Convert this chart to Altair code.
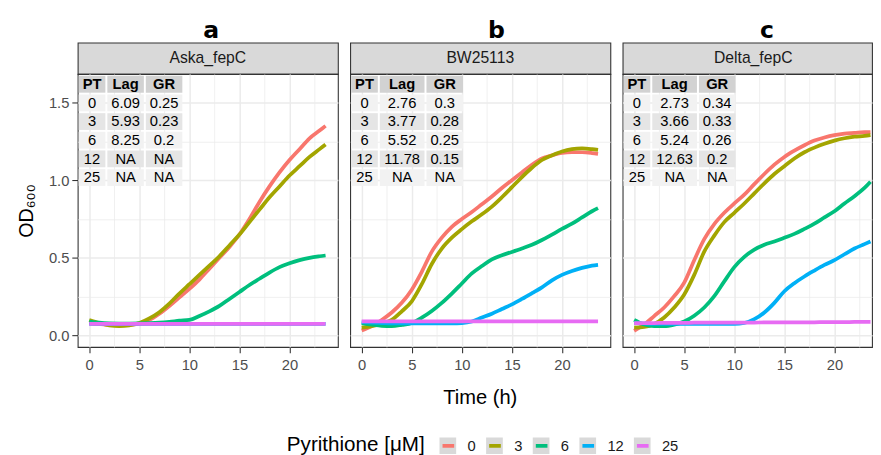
import altair as alt
import pandas as pd

# ---------------- data ----------------
TIME = [0, 1, 2, 3, 4, 5, 6, 7, 8, 9, 10, 11, 12, 13, 14, 15, 16, 17, 18, 19, 20, 21, 22, 23, 23.6]
LEVELS = ["0", "3", "6", "12", "25"]
COLORS = ["#F8766D", "#A3A500", "#00BF7D", "#00B0F6", "#E76BF3"]
STRAINS = ["Aska_fepC", "BW25113", "Delta_fepC"]
LETTERS = ["a", "b", "c"]

ASKA_0 = [0.080, 0.075, 0.068, 0.065, 0.068, 0.078, 0.100, 0.140, 0.190, 0.245, 0.300, 0.360, 0.430,
          0.500, 0.570, 0.650, 0.750, 0.860, 0.960, 1.050, 1.130, 1.200, 1.270, 1.320, 1.350]
ASKA_3 = [0.100, 0.080, 0.065, 0.060, 0.065, 0.080, 0.110, 0.150, 0.205, 0.270, 0.330, 0.390, 0.450,
          0.510, 0.580, 0.650, 0.730, 0.810, 0.890, 0.960, 1.030, 1.090, 1.150, 1.200, 1.230]
ASKA_6 = [0.090, 0.082, 0.078, 0.077, 0.077, 0.078, 0.080, 0.083, 0.088, 0.095, 0.100, 0.125, 0.155,
          0.190, 0.235, 0.280, 0.325, 0.365, 0.405, 0.440, 0.465, 0.485, 0.500, 0.510, 0.515]
ASKA_12 = [0.075, 0.075, 0.075, 0.075, 0.075, 0.075, 0.075, 0.075, 0.075, 0.075, 0.075, 0.075, 0.075,
           0.075, 0.075, 0.075, 0.075, 0.075, 0.075, 0.075, 0.075, 0.075, 0.075, 0.075, 0.075]
ASKA_25 = [0.075, 0.075, 0.075, 0.075, 0.075, 0.075, 0.075, 0.075, 0.075, 0.075, 0.075, 0.075, 0.075,
           0.075, 0.075, 0.075, 0.075, 0.075, 0.075, 0.075, 0.075, 0.075, 0.075, 0.075, 0.075]

BW_0 = [0.032, 0.060, 0.100, 0.148, 0.210, 0.295, 0.410, 0.540, 0.630, 0.700, 0.750, 0.795, 0.845,
        0.895, 0.950, 1.000, 1.050, 1.100, 1.140, 1.160, 1.175, 1.180, 1.180, 1.175, 1.170]
BW_3 = [0.050, 0.060, 0.075, 0.100, 0.155, 0.220, 0.330, 0.460, 0.560, 0.630, 0.685, 0.735, 0.780,
        0.830, 0.890, 0.955, 1.020, 1.080, 1.130, 1.160, 1.185, 1.200, 1.205, 1.200, 1.195]
BW_6 = [0.080, 0.070, 0.062, 0.060, 0.068, 0.080, 0.115, 0.158, 0.210, 0.270, 0.335, 0.400, 0.447,
        0.490, 0.517, 0.538, 0.560, 0.584, 0.615, 0.650, 0.686, 0.720, 0.760, 0.800, 0.820]
BW_12 = [0.085, 0.082, 0.080, 0.078, 0.078, 0.078, 0.078, 0.078, 0.078, 0.078, 0.080, 0.090, 0.115,
         0.140, 0.170, 0.200, 0.235, 0.272, 0.310, 0.355, 0.390, 0.415, 0.435, 0.450, 0.455]
BW_25 = [0.090, 0.090, 0.090, 0.090, 0.090, 0.090, 0.090, 0.090, 0.090, 0.090, 0.090, 0.090, 0.090,
         0.090, 0.090, 0.090, 0.090, 0.090, 0.090, 0.090, 0.090, 0.090, 0.090, 0.090, 0.090]

DELTA_0 = [0.030, 0.070, 0.125, 0.180, 0.253, 0.340, 0.485, 0.620, 0.717, 0.790, 0.850, 0.907, 0.975,
           1.040, 1.100, 1.150, 1.190, 1.225, 1.255, 1.275, 1.290, 1.300, 1.305, 1.310, 1.310]
DELTA_3 = [0.050, 0.055, 0.074, 0.116, 0.180, 0.264, 0.390, 0.540, 0.643, 0.730, 0.790, 0.850, 0.915,
           0.980, 1.040, 1.090, 1.140, 1.180, 1.210, 1.235, 1.255, 1.270, 1.280, 1.285, 1.290]
DELTA_6 = [0.100, 0.070, 0.060, 0.060, 0.070, 0.090, 0.127, 0.180, 0.253, 0.348, 0.440, 0.506, 0.553,
           0.584, 0.605, 0.629, 0.654, 0.686, 0.720, 0.760, 0.800, 0.850, 0.897, 0.950, 0.990]
DELTA_12 = [0.080, 0.077, 0.075, 0.075, 0.075, 0.075, 0.075, 0.075, 0.075, 0.075, 0.074, 0.080, 0.105,
            0.148, 0.210, 0.285, 0.337, 0.380, 0.418, 0.454, 0.485, 0.523, 0.560, 0.588, 0.605]
DELTA_25 = [0.080, 0.080, 0.080, 0.081, 0.081, 0.081, 0.082, 0.082, 0.082, 0.082, 0.083, 0.083, 0.083,
            0.084, 0.084, 0.084, 0.085, 0.085, 0.085, 0.086, 0.086, 0.086, 0.087, 0.087, 0.087]

TABLE_HEAD = ["PT", "Lag", "GR"]
PT = ["0", "3", "6", "12", "25"]
ASKA_LAG = ["6.09", "5.93", "8.25", "NA", "NA"]
ASKA_GR = ["0.25", "0.23", "0.2", "NA", "NA"]
BW_LAG = ["2.76", "3.77", "5.52", "11.78", "NA"]
BW_GR = ["0.3", "0.28", "0.25", "0.15", "NA"]
DELTA_LAG = ["2.73", "3.66", "5.24", "12.63", "NA"]
DELTA_GR = ["0.34", "0.33", "0.26", "0.2", "NA"]

SERIES = [
    [ASKA_0, ASKA_3, ASKA_6, ASKA_12, ASKA_25],
    [BW_0, BW_3, BW_6, BW_12, BW_25],
    [DELTA_0, DELTA_3, DELTA_6, DELTA_12, DELTA_25],
]
TABLES = [(ASKA_LAG, ASKA_GR), (BW_LAG, BW_GR), (DELTA_LAG, DELTA_GR)]

# ---------------- layout / style ----------------
FONT = "Liberation Sans"
PANEL_W = [265, 265, 254]
PANEL_H = 278
STRIP_H = 32
PX_PER_H = 10.2
X_MIN = -1.15
Y_DOM = [-0.074, 1.684]
X_VALUES = [0, 2.5, 5, 7.5, 10, 12.5, 15, 17.5, 20, 22.5]
Y_VALUES = [0, 0.25, 0.5, 0.75, 1.0, 1.25, 1.5]
STRIP_TEXT_X = [132.5, 132.5, 133]
LETTER_DX = [3.5, 16.5, 20]

TAB_FONT = 15
ROW_PX = 19
CELL_PAD = 0.667
GAP_X = 0.067
GAP_Y = 0.05
HEAD_BG, LIGHT_BG, DARK_BG = "#d2d2d2", "#f2f2f2", "#e5e5e5"
REG_W = {".": 0.278, "N": 0.722, "A": 0.667, "[": 0.278, "]": 0.278, " ": 0.278, "μ": 0.576,
         "M": 0.833, "P": 0.667, "y": 0.5, "r": 0.333, "i": 0.222, "t": 0.278, "h": 0.556}
BOLD_W = {"P": 0.667, "T": 0.611, "L": 0.611, "a": 0.556, "g": 0.611, "G": 0.778, "R": 0.722}

LEG_TITLE = "Pyrithione [μM]"
LEG_TITLE_SIZE = 21
LEG_TITLE_PAD = 15
LEG_X, LEG_Y = 213, 402


def em(s, widths):
    return sum(widths.get(c, 0.556) for c in s)


def table_frames(columns):
    rects, texts = [], []
    x = 0.0
    for head, vals in columns:
        w = max([em(head, BOLD_W)] + [em(v, REG_W) for v in vals]) + CELL_PAD
        for i, s in enumerate([head] + vals):
            bg = HEAD_BG if i == 0 else (LIGHT_BG if i % 2 == 1 else DARK_BG)
            rects.append(dict(x0=x + GAP_X, x1=x + w - GAP_X, y0=i + GAP_Y, y1=i + 1 - GAP_Y, bg=bg))
            texts.append(dict(xc=x + w / 2, yc=i + 0.5, txt=s, head=(i == 0)))
        x += w
    return pd.DataFrame(rects), pd.DataFrame(texts)


def major_test(step):
    return f"abs(datum.value / {step} - round(datum.value / {step})) < 1e-6"


def x_axis(title):
    kw = dict(
        values=X_VALUES, format=".0f",
        labelExpr=f"{major_test(5)} ? datum.label : ''",
        tickOpacity={"condition": {"test": major_test(5), "value": 1}, "value": 0},
        gridWidth={"condition": {"test": major_test(5), "value": 1.5}, "value": 0.75},
        tickSize=6, tickWidth=1.1, tickColor="#333333", labelPadding=5,
        labelFontSize=15, labelColor="#4d4d4d", labelFont=FONT,
        gridColor="#ebebeb", domain=False,
    )
    if title:
        kw.update(title=title, titleFontSize=20.5, titleFontWeight="normal", titleColor="black",
                  titleFont=FONT, titlePadding=16, titleX=132)
    else:
        kw.update(title=None)
    return alt.Axis(**kw)


def y_axis(show):
    kw = dict(
        values=Y_VALUES, format=".1f",
        gridWidth={"condition": {"test": major_test(0.5), "value": 1.5}, "value": 0.75},
        gridColor="#ebebeb", domain=False,
    )
    if show:
        kw.update(
            labelExpr=f"{major_test(0.5)} ? datum.label : ''",
            tickOpacity={"condition": {"test": major_test(0.5), "value": 1}, "value": 0},
            tickSize=6, tickWidth=1.1, tickColor="#333333", labelPadding=3,
            labelFontSize=15, labelColor="#4d4d4d", labelFont=FONT,
            title="OD₆₀₀", titleFontSize=20, titleFontWeight="normal", titleColor="black",
            titleFont=FONT, titlePadding=12,
        )
    else:
        kw.update(labels=False, ticks=False, title=None)
    return alt.Axis(**kw)


LEGEND_COMMON = dict(
    orient="none", legendY=LEG_Y, direction="horizontal",
    labelFont=FONT, labelFontSize=15,
    labelOffset=11, columnPadding=4.5, symbolSize=174, symbolStrokeWidth=3.8,
)

stroke_legend = alt.Legend(title=LEG_TITLE, legendX=LEG_X, titleOrient="left",
                           titleFontSize=LEG_TITLE_SIZE, titleFontWeight="normal", titleFont=FONT,
                           titlePadding=LEG_TITLE_PAD, symbolType="M-0.9,0H0.9",
                           titleColor="black", labelColor="#1a1a1a", **LEGEND_COMMON)
# grey key backgrounds: same entries, placed where the titled legend starts its entries
fill_legend = alt.Legend(title=None,
                         legendX=LEG_X + em(LEG_TITLE, REG_W) * LEG_TITLE_SIZE + LEG_TITLE_PAD,
                         symbolType="square", symbolOpacity=1, symbolStrokeColor="#d9d9d9",
                         labelOpacity=0, **LEGEND_COMMON)


def panel(k):
    width = PANEL_W[k]
    x_dom = [X_MIN, X_MIN + width / PX_PER_H]
    rows = []
    for lvl, vals in zip(LEVELS, SERIES[k]):
        for t, v in zip(TIME, vals):
            rows.append(dict(t=t, od=v, level=lvl))
    df = pd.DataFrame(rows)

    xs = alt.Scale(domain=x_dom, nice=False, zero=False)
    ys = alt.Scale(domain=Y_DOM, nice=False, zero=False)

    lines = alt.Chart(df).mark_line(strokeWidth=3.8, interpolate="monotone", clip=True).encode(
        x=alt.X("t:Q", scale=xs, axis=x_axis("Time (h)" if k == 1 else None)),
        y=alt.Y("od:Q", scale=ys, axis=y_axis(k == 0)),
        stroke=alt.Stroke("level:N", scale=alt.Scale(domain=LEVELS, range=COLORS), legend=stroke_legend),
    )
    data_layers = [lines]
    if k == 0:
        pts = alt.Chart(df).mark_point(shape="square", filled=True, opacity=0).encode(
            x=alt.X("t:Q", scale=xs, axis=x_axis(None)),
            y=alt.Y("od:Q", scale=ys, axis=y_axis(True)),
            fill=alt.Fill("level:N", sort=LEVELS, scale=alt.Scale(range=["#d9d9d9"]), legend=fill_legend),
        )
        data_layers = [pts, lines]

    lag, gr = TABLES[k]
    rect_df, text_df = table_frames([(TABLE_HEAD[0], PT), (TABLE_HEAD[1], lag), (TABLE_HEAD[2], gr)])
    txs = alt.Scale(domain=[0, width / TAB_FONT], nice=False, zero=False)
    tys = alt.Scale(domain=[-GAP_Y, PANEL_H / ROW_PX - GAP_Y], nice=False, zero=False, reverse=True)
    cells = alt.Chart(rect_df).mark_rect().encode(
        x=alt.X("x0:Q", scale=txs, axis=None), x2="x1:Q",
        y=alt.Y("y0:Q", scale=tys, axis=None), y2="y1:Q",
        color=alt.Color("bg:N", scale=None),
    )
    head_txt = alt.Chart(text_df).transform_filter("datum.head").mark_text(
        fontSize=TAB_FONT, fontWeight="bold", font=FONT, color="black", baseline="middle", align="center"
    ).encode(x=alt.X("xc:Q", scale=txs, axis=None), y=alt.Y("yc:Q", scale=tys, axis=None), text="txt:N")
    body_txt = alt.Chart(text_df).transform_filter("!datum.head").mark_text(
        fontSize=TAB_FONT, font=FONT, color="black", baseline="middle", align="center"
    ).encode(x=alt.X("xc:Q", scale=txs, axis=None), y=alt.Y("yc:Q", scale=tys, axis=None), text="txt:N")

    plot = alt.layer(alt.layer(*data_layers), alt.layer(cells, head_txt, body_txt)).resolve_scale(
        x="independent", y="independent"
    ).properties(width=width, height=PANEL_H)

    strip = alt.Chart(pd.DataFrame({"name": [STRAINS[k]]})).mark_text(
        fontSize=16, font=FONT, color="#1a1a1a", baseline="middle", align="center"
    ).encode(text="name:N", x=alt.value(STRIP_TEXT_X[k]), y=alt.value(STRIP_H / 2)).properties(
        width=width, height=STRIP_H,
        view=alt.ViewBackground(fill="#d9d9d9", stroke="#333333", strokeWidth=1.1),
        title=alt.TitleParams(LETTERS[k], fontSize=24, font="DejaVu Sans", fontWeight="bold",
                              color="black", anchor="middle", frame="group", dx=LETTER_DX[k], dy=24,
                              baseline="alphabetic", offset=5),
    )
    return alt.vconcat(strip, plot, spacing=0, bounds="flush")


chart = alt.hconcat(panel(0), panel(1), panel(2), spacing=10.5).properties(
    padding={"left": 8, "top": 6, "right": 0, "bottom": 0}
).configure(font=FONT, background="white").configure_view(
    stroke="#333333", strokeWidth=1.1, fill="white"
)

chart.save("out.html", embed_options={"renderer": "svg", "actions": False})
